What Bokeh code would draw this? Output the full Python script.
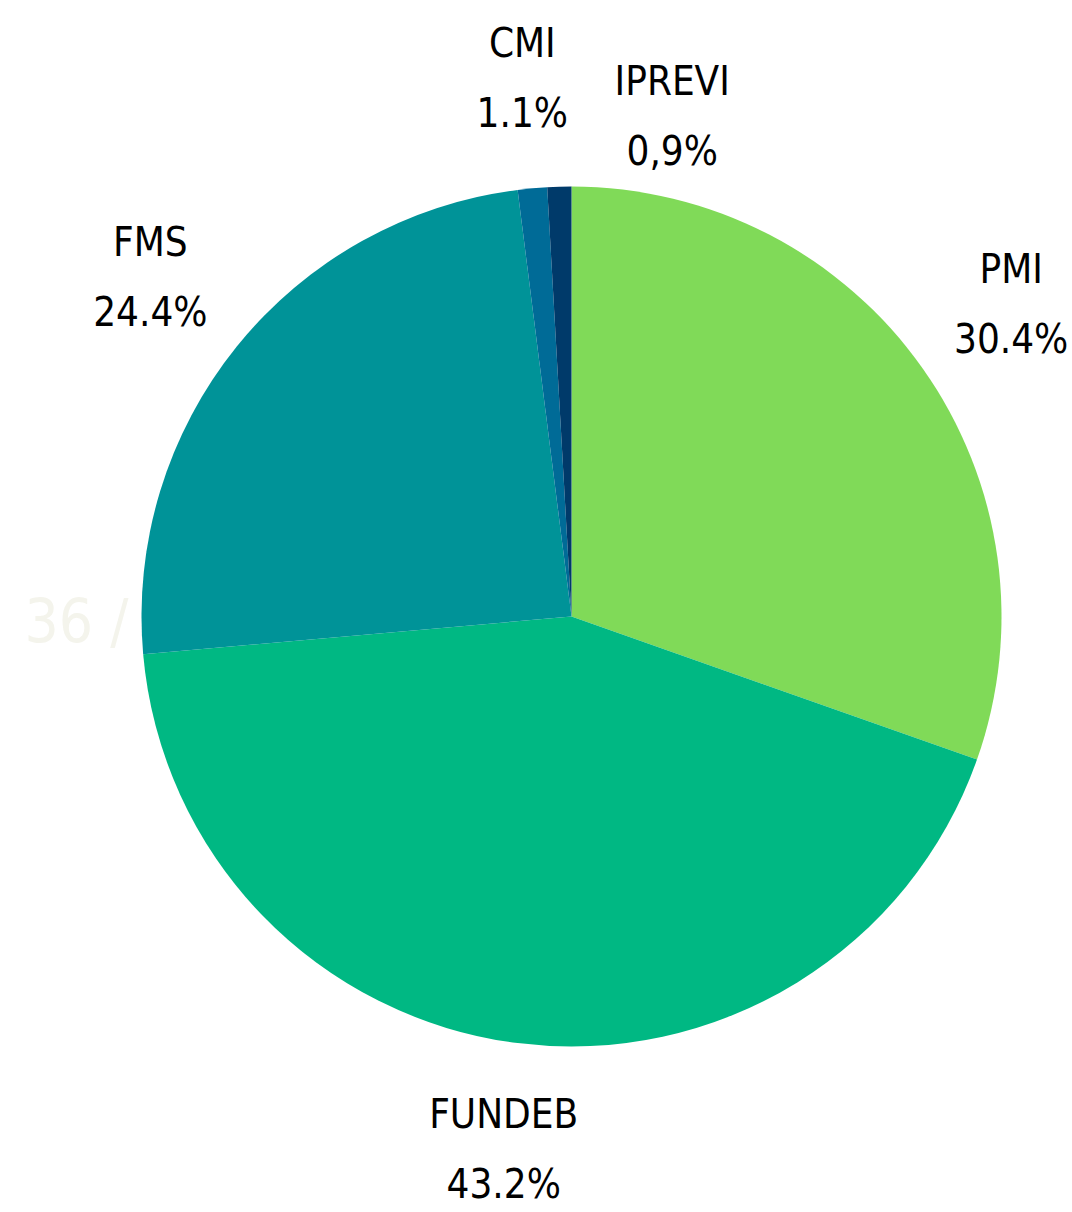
import math
from bokeh.plotting import figure
from bokeh.models import Range1d, ColumnDataSource
from bokeh.core.properties import value
from bokeh.embed import file_html
from bokeh.resources import INLINE

# ---- data ----
categories = ["PMI", "FUNDEB", "FMS", "CMI", "IPREVI"]
shares = [30.4, 43.2, 24.4, 1.1, 0.9]
pct_labels = ["30.4%", "43.2%", "24.4%", "1.1%", "0,9%"]
colors = ["#80da58", "#00b883", "#009398", "#006b97", "#003a6a"]
watermark = "36 / 4"

# ---- layout ----
W, H = 1072, 1212
CX, CY = 571, -616
R = 430
LABEL_R = 541
HALF_GAP = 35
FONT = "DejaVu Sans Condensed, Roboto"
# per-label nudge (x, y) in pixels for crowded small slices
nudges = [(-2, 0), (0, 4), (0, 0), (0, 0), (116, -40)]

total = sum(shares)
starts, ends, mids = [], [], []
cum = 0.0
for s in shares:
    a0 = math.pi / 2 - 2 * math.pi * cum / total
    cum += s
    a1 = math.pi / 2 - 2 * math.pi * cum / total
    starts.append(a0)
    ends.append(a1)
    mids.append((a0 + a1) / 2)

p = figure(width=W, height=H, output_backend="svg", toolbar_location=None,
           x_range=Range1d(0, W), y_range=Range1d(-H, 0),
           min_border=0, outline_line_color=None)
p.axis.visible = False
p.grid.visible = False
p.background_fill_color = "white"
p.border_fill_color = "white"

# faint watermark behind the pie
p.text(x=[24], y=[-620], text=[watermark], text_font=value(FONT),
       text_font_size="60px", text_color="#f4f4ec", text_baseline="alphabetic",
       text_align="left")

src = ColumnDataSource(dict(start=starts, end=ends, color=colors))
p.wedge(x=CX, y=CY, radius=R, start_angle="start", end_angle="end",
        direction="clock", fill_color="color", line_color=None, source=src)

lx, ly_name, ly_pct = [], [], []
for m, (nx, ny) in zip(mids, nudges):
    x = CX + LABEL_R * math.cos(m) + nx
    y = CY + LABEL_R * math.sin(m) + ny
    lx.append(x)
    ly_name.append(y + HALF_GAP)
    ly_pct.append(y - HALF_GAP)

p.text(x=lx, y=ly_name, text=categories, text_font=value(FONT),
       text_font_size="40px", text_color="#000000", text_align="center",
       text_baseline="middle")
p.text(x=lx, y=ly_pct, text=pct_labels, text_font=value(FONT),
       text_font_size="40px", text_color="#000000", text_align="center",
       text_baseline="middle")

open("out.html", "w").write(file_html(p, INLINE))
